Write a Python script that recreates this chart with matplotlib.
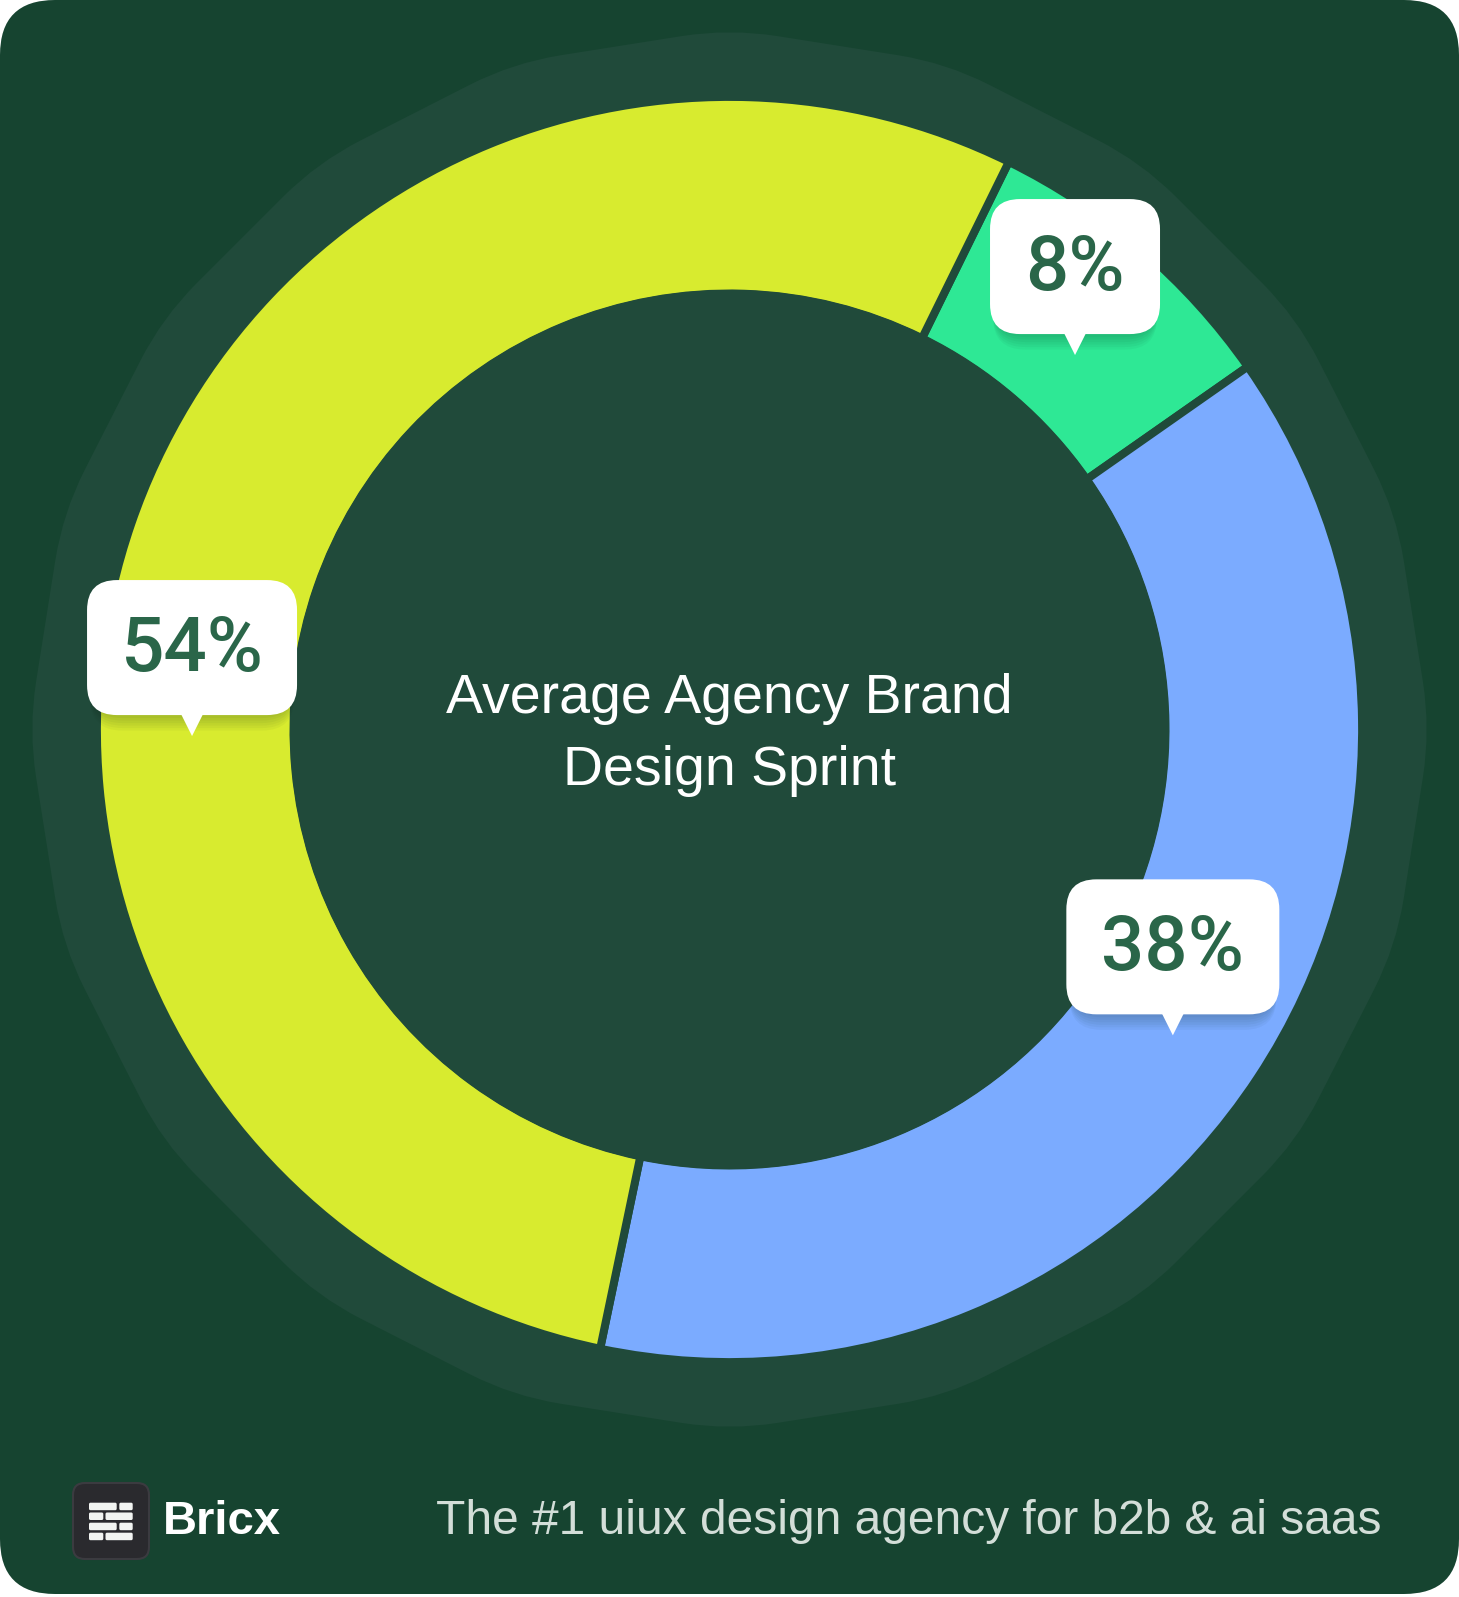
import numpy as np
import matplotlib
matplotlib.use("Agg")
import matplotlib.pyplot as plt
from matplotlib.patches import Circle, FancyBboxPatch, Polygon, PathPatch
from matplotlib.path import Path

plt.rcParams.update({'font.family': ['Liberation Sans', 'DejaVu Sans']})

# data
labels = ["Discovery", "Design", "Strategy"]
shares = [8, 38, 54]
share_text = ["8%", "38%", "54%"]
title = "Average Agency Brand\nDesign Sprint"

BG = "#164430"; RING = "#204A3A"; TEXT = "#2A6649"
COLORS = ["#2EE895", "#7BABFF", "#D8EB2F"]

W, H = 1459, 1597
fig = plt.figure(figsize=(W/100, H/100), dpi=100)
fig.patch.set_facecolor('white')
ax = fig.add_axes([0, 0, 1, 1])

def Y(y):  # top-left pixel coords -> data coords
    return H - y

cx, cy = 729.5, Y(729.5)
R_OUT, R_IN = 628.6, 440.0
GAP = 8  # px between wedges

# card background
ax.add_patch(FancyBboxPatch((0, 3), W, H-3, boxstyle="round,pad=0,rounding_size=55",
                            facecolor=BG, edgecolor='none', zorder=0))

# rounded 20-gon behind the donut
Rp, t = 701, 0.22
ang = np.radians(np.arange(0, 360, 18))
V = np.c_[cx + Rp*np.cos(ang), cy + Rp*np.sin(ang)]
verts, codes = [], []
n = len(V)
for i in range(n):
    v, vp, vn = V[i], V[i-1], V[(i+1) % n]
    pa = v + t*(vp - v); pb = v + t*(vn - v)
    verts += [pa, v, pb]
    codes += [Path.MOVETO if i == 0 else Path.LINETO, Path.CURVE3, Path.CURVE3]
verts.append(verts[0]); codes.append(Path.CLOSEPOLY)
ax.add_patch(PathPatch(Path(verts, codes), facecolor=RING, edgecolor='none', zorder=1))

# donut (edge in ring colour makes the gaps between wedges)
ax.pie(shares, colors=COLORS, startangle=63.8, counterclock=False,
       radius=R_OUT + GAP/2, center=(cx, cy),
       wedgeprops=dict(width=R_OUT - R_IN + GAP, edgecolor=RING, linewidth=GAP*0.72))
ax.add_patch(Circle((cx, cy), R_IN - 0.5, facecolor=RING, edgecolor='none', zorder=3))

ax.text(cx, Y(735), title, ha='center', va='center', fontsize=40, color='white',
        linespacing=1.5, zorder=5)

# label callouts: tip angle (clockwise from 12 o'clock), tip radius, box width
label_angles = [42.7, 124.6, 269.3]
label_radii = [509.5, 538.6, 537.5]
box_widths = [170, 213, 210]
for txt, a, r, bw in zip(share_text, label_angles, label_radii, box_widths):
    th = np.radians(a)
    tx, ty = cx + r*np.sin(th), cy + r*np.cos(th)
    bh = 135
    bx, by = tx - bw/2, ty + 21
    for k in range(6):
        off = 3 + 2.5*k
        ax.add_patch(FancyBboxPatch((bx + 3, by - off), bw - 6, bh, boxstyle="round,pad=0,rounding_size=32",
                                    facecolor='#0a2a1a', edgecolor='none', alpha=0.04, zorder=6))
    ax.add_patch(Polygon([[tx - 11, by + 1], [tx + 11, by + 1], [tx, ty]], closed=True,
                         facecolor='white', edgecolor='none', zorder=7))
    ax.add_patch(FancyBboxPatch((bx, by), bw, bh, boxstyle="round,pad=0,rounding_size=30",
                                facecolor='white', edgecolor='none', zorder=7))
    ax.text(tx, by + bh/2 - 3, txt, ha='center', va='center', fontsize=55, fontweight='medium',
            family=['Roboto', 'Liberation Sans'], color=TEXT, zorder=8)

# footer logo
ax.add_patch(FancyBboxPatch((73, Y(1559)), 76, 76, boxstyle="round,pad=0,rounding_size=12",
                            facecolor='#2A2A2E', edgecolor='#3B3B40', lw=1.5, zorder=5))
rows = [(1502.7, [(89, 116.7), (119.3, 132.7)]), (1512.5, [(89, 103.3), (105.5, 132.7)]),
        (1522.7, [(89, 116.7), (119.3, 132.7)]), (1532.7, [(89, 103.3), (105.5, 132.7)])]
for ytop, bricks in rows:
    for x0, x1 in bricks:
        ax.add_patch(FancyBboxPatch((x0, Y(ytop + 7.5)), x1 - x0, 7.5,
                                    boxstyle="round,pad=0,rounding_size=1.5",
                                    facecolor='#F2F4F2', edgecolor='none', zorder=6))
ax.text(163, Y(1522), "Bricx", ha='left', va='center', fontsize=34, fontweight='bold',
        color='white', zorder=6)
ax.text(1382, Y(1522), "The #1 uiux design agency for b2b & ai saas", ha='right', va='center',
        fontsize=34.5, color='#D3DED8', zorder=6)

ax.set_xlim(0, W); ax.set_ylim(0, H)
ax.set_aspect('auto')
ax.axis('off')
fig.savefig("out.png", dpi=100, facecolor='white')
